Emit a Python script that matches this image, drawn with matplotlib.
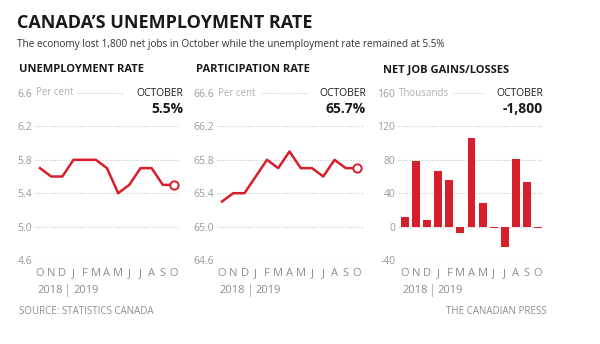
import matplotlib.pyplot as plt
import numpy as np

plt.rcParams['font.family'] = ['Open Sans', 'DejaVu Sans']

# %% Data
months = ['O', 'N', 'D', 'J', 'F', 'M', 'A', 'M', 'J', 'J', 'A', 'S', 'O']
unemployment = [5.7, 5.6, 5.6, 5.8, 5.8, 5.8, 5.7, 5.4, 5.5, 5.7, 5.7, 5.5, 5.5]
participation = [65.3, 65.4, 65.4, 65.6, 65.8, 65.7, 65.9, 65.7, 65.7, 65.6, 65.8, 65.7, 65.7]
net_jobs = [11.2, 78.0, 7.8, 66.8, 55.9, -7.2, 106.5, 27.7, -2.2, -24.2, 81.1, 53.7, -1.8]

unemp_ticks = [4.6, 5.0, 5.4, 5.8, 6.2, 6.6]
part_ticks = [64.6, 65.0, 65.4, 65.8, 66.2, 66.6]
jobs_ticks = [-40, 0, 40, 80, 120, 160]

# %% Style
RED = '#d71f2b'
GRAY = '#8c8c8c'
DARK = '#1a1a1a'
GRID = '#c4c4c4'
W, H = 600, 344

fig = plt.figure(figsize=(W / 100, H / 100), dpi=100)


def px_axes(x0, x1, ytop, ybot):
    return fig.add_axes([x0 / W, 1 - ybot / H, (x1 - x0) / W, (ybot - ytop) / H])


def setup_panel(ax, ticks, fmt, unit, dots, title, big, title_x, right_x):
    ax.set_ylim(ticks[0], ticks[-1])
    for s in ax.spines.values():
        s.set_visible(False)
    for t in ticks[:-1]:
        ax.axhline(t, color=GRID, ls=(0, (1, 1.5)), lw=0.8, zorder=0)
    ax.axhline(ticks[-1], xmin=dots[0], xmax=dots[1], color=GRID,
               ls=(0, (1, 1.5)), lw=0.8, zorder=0)
    ax.set_yticks(ticks)
    ax.set_yticklabels([fmt(t) for t in ticks])
    ax.tick_params(axis='y', length=0, pad=2, labelsize=7.5, labelcolor='#9a9a9a')
    ax.set_xticks(range(len(months)))
    ax.set_xticklabels(months)
    ax.tick_params(axis='x', length=0, pad=6, labelsize=8, labelcolor=GRAY)
    # unit label next to top tick
    ax.annotate(unit, xy=(0, ticks[-1]), xycoords=('axes fraction', 'data'),
                xytext=(1, 0), textcoords='offset points', fontsize=7,
                color='#b0b0b0', va='center', ha='left')
    # year labels
    ax.text(2.5 - 0.45, -0.18, '2018', transform=ax.get_xaxis_transform(),
            ha='right', va='center', fontsize=8, color=GRAY)
    ax.text(2.5, -0.18, '|', transform=ax.get_xaxis_transform(),
            ha='center', va='center', fontsize=9, color='#b0b0b0')
    ax.text(2.5 + 0.45, -0.18, '2019', transform=ax.get_xaxis_transform(),
            ha='left', va='center', fontsize=8, color=GRAY)
    fig.text(title_x / W, 1 - 70 / H, title, fontsize=8, fontweight='bold',
             color=DARK, ha='left', va='center')
    fig.text(right_x / W, 1 - 94 / H, 'OCTOBER', fontsize=7.5, color=DARK,
             ha='right', va='center')
    fig.text(right_x / W, 1 - 109 / H, big, fontsize=10, fontweight='bold',
             color=DARK, ha='right', va='center')


x = np.arange(len(months))

# %% Unemployment rate
ax1 = px_axes(35, 180, 93, 260)
ax1.set_xlim(-0.45, 12.54)
ax1.plot(x, unemployment, color=RED, lw=1.8, zorder=3)
ax1.plot(x[-1], unemployment[-1], 'o', ms=6, mfc='white', mec=RED, mew=1.4, zorder=4)
setup_panel(ax1, unemp_ticks, lambda t: f'{t:.1f}', 'Per cent', (0.29, 0.61),
            'UNEMPLOYMENT RATE', '5.5%', 19, 183)

# %% Participation rate
ax2 = px_axes(217, 363, 93, 260)
ax2.set_xlim(-0.44, 12.53)
ax2.plot(x, participation, color=RED, lw=1.8, zorder=3)
ax2.plot(x[-1], participation[-1], 'o', ms=6, mfc='white', mec=RED, mew=1.4, zorder=4)
setup_panel(ax2, part_ticks, lambda t: f'{t:.1f}', 'Per cent', (0.31, 0.62),
            'PARTICIPATION RATE', '65.7%', 196, 366)

# %% Net job gains/losses
ax3 = px_axes(398, 543, 93, 260)
ax3.set_xlim(-0.63, 12.45)
ax3.bar(x, net_jobs, width=0.72, color=RED, zorder=3)
setup_panel(ax3, jobs_ticks, lambda t: f'{t:d}', 'Thousands', (0.38, 0.59),
            'NET JOB GAINS/LOSSES', '-1,800', 383, 543)

# %% Titles and footer
fig.text(17 / W, 1 - 23 / H, 'CANADA\u2019S UNEMPLOYMENT RATE', fontsize=13,
         fontweight='bold', color=DARK, ha='left', va='center')
fig.text(17 / W, 1 - 45 / H,
         'The economy lost 1,800 net jobs in October while the unemployment rate remained at 5.5%',
         fontsize=7.2, color='#333333', ha='left', va='center')
fig.text(19 / W, 1 - 312 / H, 'SOURCE: STATISTICS CANADA', fontsize=7,
         color=GRAY, ha='left', va='center')
fig.text(547 / W, 1 - 312 / H, 'THE CANADIAN PRESS', fontsize=7,
         color=GRAY, ha='right', va='center')

fig.savefig('out.png', dpi=100, facecolor='white')
